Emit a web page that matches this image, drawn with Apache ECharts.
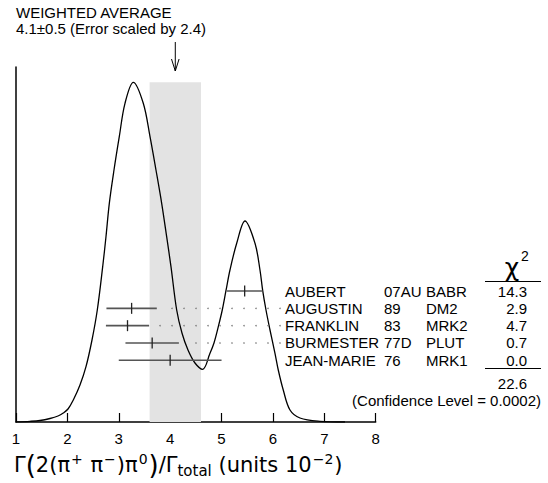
<!DOCTYPE html>
<html><head><meta charset="utf-8">
<script src="https://cdn.jsdelivr.net/npm/echarts@6/dist/echarts.min.js"></script>
<style>html,body{margin:0;padding:0;background:#fff}#c{width:548px;height:483px}</style>
</head><body><div id="c"></div>
<script>
// ---- data ----
const names  = ['AUBERT', 'AUGUSTIN', 'FRANKLIN', 'BURMESTER', 'JEAN-MARIE'];
const years  = ['07AU', '89', '83', '77D', '76'];
const codes  = ['BABR', 'DM2', 'MRK2', 'PLUT', 'MRK1'];
const values = [5.45, 3.25, 3.17, 3.65, 4.0];
const errors = [0.35, 0.49, 0.42, 0.52, 1.0];
const chi2   = ['14.3', '2.9', '4.7', '0.7', '0.0'];
const chi2Total = '22.6';
const confidenceLevel = '0.0002';
const average = 4.1;
const averageError = 0.5;
const errorScale = 2.4;
const xTicks = [1, 2, 3, 4, 5, 6, 7, 8];
// ideogram curve (x in units 10^-2, relative height)
const ideogramX = [1.00, 1.272, 1.467, 1.662, 1.817, 1.920, 2.012, 2.115, 2.245, 2.362, 2.479, 2.582, 2.687, 2.751, 2.816, 2.907, 3.010, 3.121, 3.283, 3.477, 3.608, 3.724, 3.835, 3.932, 4.016, 4.127, 4.230, 4.347, 4.483, 4.633, 4.775, 4.853, 4.937, 5.014, 5.086, 5.164, 5.295, 5.456, 5.651, 5.748, 5.801, 5.865, 5.943, 6.040, 6.104, 6.201, 6.332, 6.526, 6.916, 7.402];
const ideogramY = [0.002, 0.007, 0.015, 0.035, 0.06, 0.09, 0.13, 0.22, 0.37, 0.553, 0.82, 1.12, 1.553, 1.853, 2.187, 2.52, 2.853, 3.187, 3.397, 3.187, 2.853, 2.52, 2.187, 1.853, 1.553, 1.12, 0.89, 0.72, 0.59, 0.527, 0.687, 0.79, 0.953, 1.12, 1.313, 1.52, 1.787, 2.01, 1.787, 1.52, 1.313, 1.12, 0.92, 0.687, 0.52, 0.32, 0.12, 0.04, 0.007, 0.0];

const FONT = "'Liberation Sans', Arial, Helvetica, sans-serif";
const FS = 15;
const bandTop = Math.max(...ideogramY);

const chart = echarts.init(document.getElementById('c'), null, {renderer: 'svg'});

const rowData = names.map((n, i) => [values[i] - errors[i], values[i] + errors[i], values[i], i]);

const option = {
  animation: false,
  backgroundColor: '#fff',
  grid: {left: 16, right: 172.3, top: 67, bottom: 61},
  xAxis: {
    type: 'value', min: xTicks[0], max: xTicks[xTicks.length - 1], interval: 1,
    axisLine: {show: true, lineStyle: {color: '#000', width: 1.5}},
    axisTick: {show: true, inside: true, length: 9, lineStyle: {color: '#000', width: 1.2}},
    axisLabel: {fontSize: 15, color: '#000', margin: 9, fontFamily: FONT},
    splitLine: {show: false}
  },
  yAxis: [
    {type: 'value', min: 0, max: 3.55,
     axisLine: {show: true, lineStyle: {color: '#000', width: 1.5}},
     axisTick: {show: false}, axisLabel: {show: false}, splitLine: {show: false}},
    {type: 'value', inverse: true, min: -12.93, max: 7.56, show: false}
  ],
  series: [
    {
      type: 'custom', z: 1, silent: true,
      xAxisIndex: 0, yAxisIndex: 0,
      data: [[average, averageError, bandTop]],
      renderItem: function (params, api) {
        const a = api.value(0), e = api.value(1), t = api.value(2);
        const p1 = api.coord([a - e, t]);
        const p2 = api.coord([a + e, 0]);
        const pa = api.coord([a, 0]);
        return {type: 'group', children: [
          {type: 'rect', shape: {x: p1[0], y: p1[1], width: p2[0] - p1[0], height: p2[1] - p1[1]}, style: {fill: '#e3e3e3'}},
          {type: 'line', shape: {x1: pa[0], y1: 42, x2: pa[0], y2: 71}, style: {stroke: '#000', lineWidth: 1}},
          {type: 'polyline', shape: {points: [[pa[0] - 3.8, 59], [pa[0], 71], [pa[0] + 3.8, 59]]}, style: {stroke: '#000', lineWidth: 1, fill: null}}
        ]};
      }
    },
    {
      type: 'line', z: 3, silent: true,
      xAxisIndex: 0, yAxisIndex: 0,
      data: ideogramX.map((x, i) => [x, ideogramY[i]]),
      showSymbol: false, smooth: 0.35,
      lineStyle: {color: '#000', width: 1.3}
    },
    {
      type: 'custom', z: 4, silent: true,
      xAxisIndex: 0, yAxisIndex: 1,
      data: rowData,
      renderItem: function (params, api) {
        const i = params.dataIndex;
        const row = api.value(3);
        const lo = api.coord([api.value(0), row]);
        const hi = api.coord([api.value(1), row]);
        const c = api.coord([api.value(2), row]);
        const y = lo[1];
        const ch = [
          {type: 'line', shape: {x1: lo[0], y1: y, x2: hi[0], y2: y}, style: {stroke: '#555', lineWidth: 1.6}},
          {type: 'line', shape: {x1: c[0], y1: y - 5.5, x2: c[0], y2: y + 5.5}, style: {stroke: '#222', lineWidth: 1.3}}
        ];
        for (let x = 280; x > hi[0] + 7; x -= 12) {
          ch.push({type: 'circle', shape: {cx: x, cy: y, r: 0.75}, style: {fill: '#777'}});
        }
        const ts = {font: FS + 'px ' + FONT, fill: '#000', verticalAlign: 'middle'};
        ch.push({type: 'text', style: Object.assign({}, ts, {text: names[i], x: 285, y: y, align: 'left'})});
        ch.push({type: 'text', style: Object.assign({}, ts, {text: years[i], x: 384, y: y, align: 'left'})});
        ch.push({type: 'text', style: Object.assign({}, ts, {text: codes[i], x: 426, y: y, align: 'left'})});
        ch.push({type: 'text', style: Object.assign({}, ts, {text: chi2[i], x: 527, y: y, align: 'right'})});
        return {type: 'group', children: ch};
      }
    }
  ],
  graphic: [
    {type: 'text', x: 16, y: 4, style: {
      text: 'WEIGHTED AVERAGE\n' + average + '±' + averageError + ' (Error scaled by ' + errorScale + ')',
      font: FS + 'px ' + FONT, lineHeight: 16, fill: '#000', verticalAlign: 'top'}},
    {type: 'text', x: 512, y: 267, style: {text: 'χ', font: '25px "DejaVu Sans", sans-serif', fill: '#000', align: 'center', verticalAlign: 'middle'}},
    {type: 'text', x: 525, y: 256, style: {text: '2', font: '14px ' + FONT, fill: '#000', align: 'center', verticalAlign: 'middle'}},
    {type: 'line', shape: {x1: 485, y1: 281.5, x2: 541, y2: 281.5}, style: {stroke: '#000', lineWidth: 1}},
    {type: 'line', shape: {x1: 485, y1: 368.5, x2: 541, y2: 368.5}, style: {stroke: '#000', lineWidth: 1}},
    {type: 'text', x: 527, y: 383, style: {text: chi2Total, font: FS + 'px ' + FONT, fill: '#000', align: 'right', verticalAlign: 'middle'}},
    {type: 'text', x: 541, y: 400, style: {text: '(Confidence Level = ' + confidenceLevel + ')', font: FS + 'px ' + FONT, fill: '#000', align: 'right', verticalAlign: 'middle'}},
    {type: 'text', x: 14, y: 451, style: {
      text: '{n|Γ}{b|(}{n|2(π}{sup|+}{n| π}{sup|−}{n|)π}{sup|0}{b|)}{n|/Γ}{sub|total}{n| (units 10}{sup|−2}{n|)}',
      rich: {
        n: {fontSize: 21, fontFamily: 'DejaVu Sans', color: '#000', lineHeight: 27, verticalAlign: 'middle'},
        b: {fontSize: 26, fontFamily: 'DejaVu Sans', color: '#000', lineHeight: 27, verticalAlign: 'middle'},
        sup: {fontSize: 14, fontFamily: 'DejaVu Sans', color: '#000', lineHeight: 27, verticalAlign: 'top', padding: [1, 1, 0, 1]},
        sub: {fontSize: 15, fontFamily: 'DejaVu Sans', color: '#000', lineHeight: 27, verticalAlign: 'bottom'}
      }
    }}
  ]
};
chart.setOption(option);
</script>
</body></html>
